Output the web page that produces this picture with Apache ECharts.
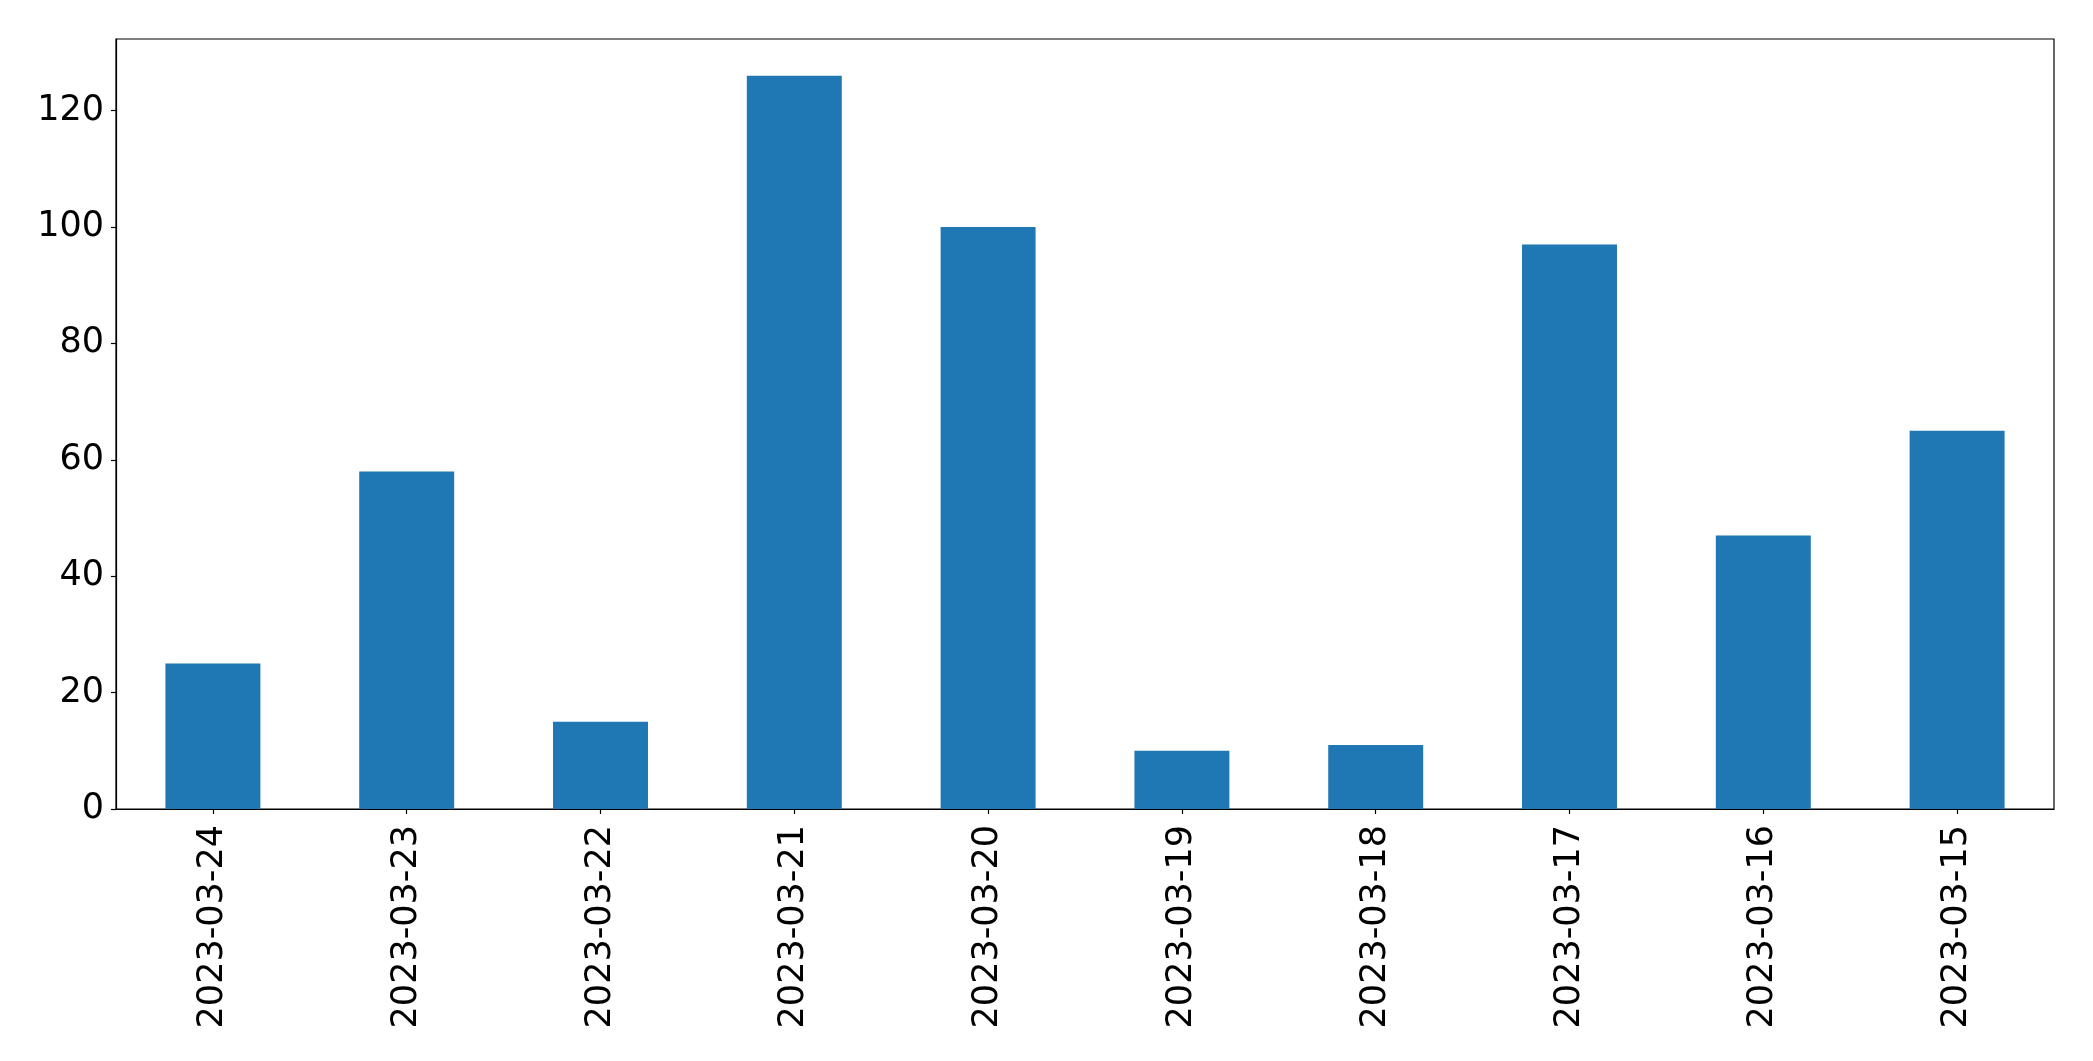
<!DOCTYPE html>
<html>
<head>
<meta charset="utf-8">
<script src="https://cdn.jsdelivr.net/npm/echarts@6/dist/echarts.min.js"></script>
<style>
html,body{margin:0;padding:0;background:#fff;}
#chart{width:2093px;height:1061px;}
</style>
</head>
<body>
<div id="chart"></div>
<script>
const categories = ["2023-03-24","2023-03-23","2023-03-22","2023-03-21","2023-03-20","2023-03-19","2023-03-18","2023-03-17","2023-03-16","2023-03-15"];
const values = [25, 58, 15, 126, 100, 10, 11, 97, 47, 65];
const yTicks = [0, 20, 40, 60, 80, 100, 120];
const yMax = 132.3;

const chart = echarts.init(document.getElementById('chart'), null, {renderer: 'canvas'});
const font = 'DejaVu Sans';
chart.setOption({
  animation: false,
  backgroundColor: '#ffffff',
  grid: {left: 116, right: 39, top: 39, bottom: 252, show: true, borderColor: '#000', borderWidth: 1.2, backgroundColor: 'transparent'},
  xAxis: {
    type: 'category',
    data: categories,
    boundaryGap: true,
    axisLine: {show: true, lineStyle: {color: '#000', width: 1.2}},
    axisTick: {show: true, alignWithLabel: true, length: 5, lineStyle: {color: '#000', width: 1.2}},
    axisLabel: {rotate: 90, margin: 16, color: '#000', fontFamily: font, fontSize: 35, interval: 0}
  },
  yAxis: {
    type: 'value',
    min: 0,
    max: yMax,
    splitLine: {show: false},
    axisLine: {show: true, lineStyle: {color: '#000', width: 1.2}},
    axisTick: {show: true, length: 5, customValues: yTicks, lineStyle: {color: '#000', width: 1.2}},
    axisLabel: {margin: 12, color: '#000', fontFamily: font, fontSize: 35, customValues: yTicks}
  },
  series: [{
    type: 'bar',
    data: values,
    barWidth: '49%',
    itemStyle: {color: '#1f77b4'}
  }]
});
</script>
</body>
</html>
